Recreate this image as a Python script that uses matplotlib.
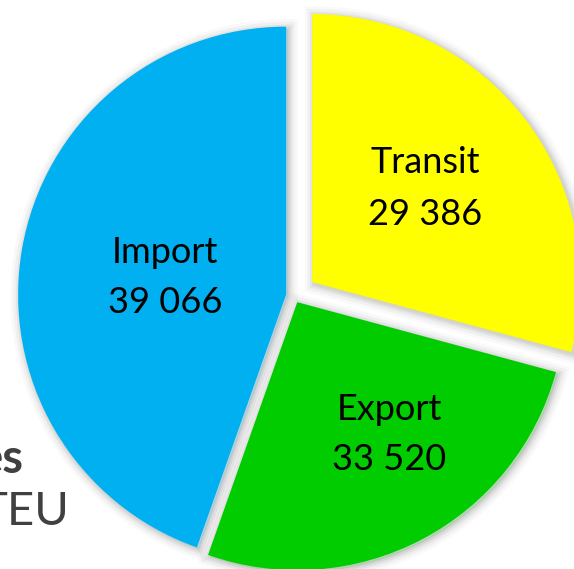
import matplotlib
matplotlib.use('Agg')
import matplotlib.pyplot as plt
import matplotlib.patheffects as pe

# Slice data (clockwise from 12 o'clock)
categories = ['Transit', 'Export', 'Import']
value_labels = ['29 386', '33 520', '39 066']
# slice shares as drawn in the picture (percent of the circle)
shares = [29.2, 26.2, 44.6]
colors = ['#FFFF00', '#00CC00', '#00B0F0']

W, H = 574, 569
fig = plt.figure(figsize=(W / 100, H / 100), dpi=100)
ax = fig.add_axes([0, 0, 1, 1])
ax.set_xlim(0, W)
ax.set_ylim(0, H)
ax.set_aspect('equal')
ax.axis('off')

# soft shadow around each slice
shadow = [pe.Stroke(linewidth=w, foreground='black', alpha=a, offset=(1.5, -1.5))
          for w, a in [(14, 0.025), (10, 0.035), (6, 0.05), (3, 0.06)]]
shadow.append(pe.Normal())

wedges, _ = ax.pie(shares, colors=colors, startangle=90, counterclock=False,
                   center=(294, H - 296), radius=268, explode=[23, 7, 8],
                   wedgeprops=dict(linewidth=0, path_effects=shadow), frame=True)
ax.set_xlim(0, W)
ax.set_ylim(0, H)
ax.axis('off')

# label baselines (pixel rows from top) for name / number
label_pos = {'Transit': (425, 173, 225), 'Export': (389, 420, 470), 'Import': (165, 263, 313)}
font = 'Lato'
for cat, val in zip(categories, value_labels):
    x, y1, y2 = label_pos[cat]
    ax.text(x, H - y1, cat, ha='center', va='baseline', fontsize=26, family=font, color='black')
    ax.text(x, H - y2, val, ha='center', va='baseline', fontsize=26, family=font, color='black')

# cut-off side text on the left
ax.text(23, H - 473, 'es', ha='right', va='baseline', fontsize=34, family=font,
        fontweight='bold', color='#404040')
ax.text(69, H - 525, 'TEU', ha='right', va='baseline', fontsize=34, family=font, color='#404040')

fig.savefig('out.png', dpi=100)
